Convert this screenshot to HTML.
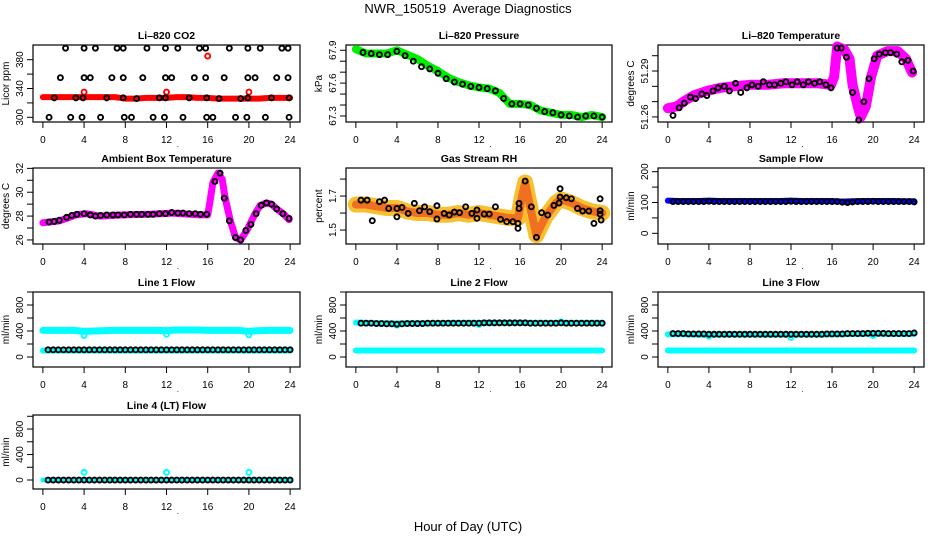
<!DOCTYPE html>
<html><head><meta charset="utf-8">
<style>
html,body{margin:0;padding:0;background:#fff;}
svg{display:block;font-family:"Liberation Sans",Arial,sans-serif;}
</style></head>
<body>
<svg id="chart" width="936" height="540" viewBox="0 0 936 540" xmlns="http://www.w3.org/2000/svg">
<rect x="0" y="0" width="936" height="540" fill="#fff"/>
<text x="468" y="13" font-size="13" text-anchor="middle">NWR_150519&#160; Average Diagnostics</text>
<text x="468" y="531" font-size="13" text-anchor="middle">Hour of Day (UTC)</text>
</svg>
<script>
const xTicks=[0,4,8,12,16,20,24];
const hours=[0,1,2,3,4,5,6,7,8,9,10,11,12,13,14,15,16,17,18,19,20,21,22,23,24];
const halfHours=[0.5,1,1.5,2,2.5,3,3.5,4,4.5,5,5.5,6,6.5,7,7.5,8,8.5,9,9.5,10,10.5,11,11.5,12,12.5,13,13.5,14,14.5,15,15.5,16,16.5,17,17.5,18,18.5,19,19.5,20,20.5,21,21.5,22,22.5,23,23.5,24];

// CO2
const co2Red=[328,328,328,328,328,328,328,328,326,326,327,327,327,328,328,327,327,326,326,326,326,326,327,327,327];
const co2OutX=[4,12,16,20];
const co2OutY=[335,335,385,335];
const co2BlkX=[2.2,4.0,5.1,7.2,7.8,10.1,11.9,13.1,15.2,15.8,18.1,19.9,21.1,23.2,23.8,
1.7,4.0,4.6,6.7,7.8,9.7,11.9,12.5,14.7,15.8,17.6,19.9,20.6,22.7,23.8,
1.1,3.2,3.9,6.2,7.8,9.1,11.3,11.9,14.2,15.9,17.1,19.2,19.9,22.2,23.9,
0.6,2.7,3.8,5.6,7.9,8.6,10.7,11.8,13.6,15.9,16.5,18.7,19.8,21.6,23.9];
const co2BlkY=[396,396,396,396,396,396,396,396,396,396,396,396,396,396,396,
355,355,355,355,355,355,355,355,355,355,355,355,355,355,355,
327,327,327,327,327,326,327,327,327,327,326,326,327,327,327,
300,300,300,300,300,300,300,300,300,300,300,300,300,300,300];

// Pressure
const presGreen=[67.91,67.87,67.87,67.87,67.90,67.86,67.82,67.76,67.71,67.65,67.61,67.58,67.56,67.55,67.51,67.41,67.41,67.40,67.35,67.33,67.31,67.31,67.29,67.31,67.29];
const presBlkX=[0.7,1.5,2.3,3.1,4,4.8,5.6,6.4,7.2,8,8.8,9.6,10.4,11.2,12,12.8,13.6,14.4,15.2,16,16.8,17.6,18.4,19.2,20,20.8,21.6,22.4,23.2,24];
const presBlkY=[67.88,67.87,67.86,67.86,67.89,67.85,67.80,67.75,67.73,67.69,67.64,67.61,67.59,67.57,67.56,67.55,67.53,67.46,67.41,67.41,67.40,67.37,67.34,67.33,67.31,67.30,67.29,67.30,67.30,67.29];

// Li-820 temperature
const ltX=[0,0.9,1.5,2.5,3.8,5.1,6.4,8.0,9.7,11.3,12.9,14.6,15.9,16.2,16.5,17.2,17.7,18.0,18.5,18.8,19.3,19.8,20.4,21.4,22.4,23.2,23.8];
const ltY=[51.2657,51.267,51.270,51.274,51.277,51.279,51.280,51.281,51.281,51.282,51.282,51.282,51.281,51.286,51.306,51.304,51.298,51.281,51.267,51.260,51.267,51.286,51.300,51.303,51.303,51.298,51.289];
const ltBlkX=[0.5,1.1,1.6,2.2,2.7,3.3,3.8,4.4,4.9,5.5,6.0,6.6,7.1,7.7,8.2,8.8,9.3,9.9,10.4,11.0,11.5,12.1,12.6,13.2,13.7,14.3,14.8,15.4,15.9,16.5,16.9,17.4,18.0,18.6,19.1,19.6,20.1,20.6,21.2,21.7,22.3,22.8,23.4,23.9];
const ltBlkY=[51.261,51.266,51.269,51.273,51.272,51.275,51.274,51.277,51.279,51.280,51.277,51.282,51.276,51.279,51.281,51.280,51.283,51.281,51.281,51.282,51.283,51.281,51.283,51.281,51.283,51.282,51.283,51.281,51.279,51.305,51.305,51.299,51.276,51.258,51.270,51.285,51.298,51.301,51.302,51.302,51.301,51.296,51.297,51.290];

// Ambient box temperature
const ambX=[0,1.6,2.3,3.2,4.2,5.5,7.8,10.4,12.6,15.2,16.0,16.2,16.5,17.0,17.4,17.7,18.2,18.7,19.2,19.8,20.6,21.1,21.7,22.2,22.7,23.4,23.9];
const ambY=[27.44,27.6,27.8,28.1,28.2,28.0,28.1,28.15,28.25,28.1,28.1,29.1,30.8,31.6,31.1,29.5,27.6,26.2,26.0,26.8,28.2,28.9,29.1,29.0,28.6,28.15,27.7];
const ambBlkX=[0.6,1.1,1.6,2.3,2.8,3.3,4,4.6,5.1,5.6,6.2,6.8,7.3,7.9,8.5,9.1,9.6,10.2,10.7,11.3,11.9,12.5,13.1,13.6,14.2,14.8,15.3,15.9,16.7,17.2,17.6,18.1,18.7,19.2,19.7,20.2,20.7,21.2,21.7,22.2,22.7,23.3,23.9];
const ambBlkY=[27.5,27.55,27.65,27.9,28.05,28.15,28.2,28.1,28.0,28.05,28.1,28.1,28.1,28.1,28.15,28.15,28.15,28.15,28.15,28.2,28.2,28.3,28.25,28.25,28.2,28.2,28.15,28.15,30.9,31.6,29.5,27.6,26.2,26.0,26.8,27.3,28.2,28.9,29.1,29.0,28.6,28.2,27.8];

// Gas stream RH
const rhX=[0,1,2,3,4,5,6,7,8,9,10,11,12,13,14,15,15.8,16.2,16.5,16.9,17.3,17.6,18.0,18.5,19,19.5,20,21,22,23,24];
const rhMid=[1.65,1.65,1.64,1.63,1.63,1.61,1.60,1.60,1.59,1.59,1.60,1.59,1.60,1.59,1.58,1.57,1.57,1.70,1.78,1.66,1.55,1.47,1.52,1.58,1.62,1.66,1.68,1.66,1.63,1.61,1.60];
const rhBlkX=[0.5,1.1,1.6,2.3,2.8,3.2,4.0,4.0,4.5,5.1,5.7,6.2,6.7,7.2,7.9,7.9,8.6,9.1,9.6,10.1,10.7,11.3,11.8,11.8,12.5,13.0,13.6,14.1,14.7,15.3,15.8,15.8,15.9,15.9,16.5,17.1,17.6,18.1,18.7,19.3,19.8,19.9,19.9,20.5,21.0,21.6,22.1,22.7,23.2,23.8,23.8,23.8,23.9];
const rhBlkY=[1.676,1.676,1.555,1.667,1.676,1.627,1.627,1.578,1.633,1.598,1.657,1.614,1.637,1.608,1.643,1.565,1.598,1.588,1.606,1.602,1.637,1.598,1.618,1.569,1.594,1.594,1.637,1.563,1.549,1.549,1.539,1.510,1.657,1.627,1.788,1.637,1.457,1.602,1.588,1.645,1.659,1.694,1.743,1.690,1.684,1.627,1.612,1.612,1.539,1.684,1.614,1.594,1.559];

// Sample flow
const sampBlue=[106,105,105,105,106,105,105,105,105,105,105,105,106,105,105,105,105,103,104,105,105,105,105,104,104];
const sampBlk=[103,103,103,103,103,103,103,104,103,103,103,103,103,103,103,103,103,103,103,103,103,103,103,104,103,103,103,103,103,103,103,103,103,101,100,102,103,103,103,104,103,103,103,103,103,103,103,102];

// Line 1 flow
const l1CyanHi=[410,410,410,410,395,400,405,410,410,410,410,410,405,415,415,415,410,410,410,410,395,405,410,410,410];
const l1CyanLo=[100,100,100,100,100,100,100,100,100,100,100,100,100,100,100,100,100,100,100,100,100,100,100,100,100];
const l1OutX=[4,12,20];
const l1OutY=[330,350,340];
const l1Blk=[110,110,110,110,110,110,110,110,110,110,110,110,110,110,110,110,110,110,110,110,110,110,110,110,110,110,110,110,110,110,110,110,110,110,110,110,110,110,110,110,110,110,110,110,110,110,110,110];

// Line 2 flow
const l2CyanHi=[530,525,520,520,515,520,520,520,520,525,525,525,525,525,525,525,525,525,525,525,525,525,525,525,525];
const l2CyanLo=[100,100,100,100,100,100,100,100,100,100,100,100,100,100,100,100,100,100,100,100,100,100,100,100,100];
const l2OutX=[4,12,20];
const l2OutY=[490,500,540];
const l2Blk=[520,520,520,515,515,510,510,505,510,515,515,515,515,520,520,520,520,520,520,520,520,520,520,520,525,525,525,525,525,525,525,525,525,520,520,520,520,520,520,525,520,520,520,520,520,520,520,520];

// Line 3 flow
const l3CyanHi=[350,350,350,345,340,345,345,345,345,345,345,345,340,345,345,345,350,350,355,355,360,355,355,355,355];
const l3CyanLo=[100,100,100,100,100,100,100,100,100,100,100,100,100,100,100,100,100,100,100,100,100,100,100,100,100];
const l3OutX=[4,12,20];
const l3OutY=[320,300,330];
const l3Blk=[360,360,360,355,355,355,355,350,350,350,350,350,350,350,350,350,350,350,350,350,350,350,350,350,350,350,350,350,350,350,355,355,355,355,360,360,360,360,365,365,365,365,360,360,360,360,360,370];

// Line 4 flow
const l4Cyan=[0,0,0,0,0,0,0,0,0,0,0,0,0,0,0,0,0,0,0,0,0,0,0,0,0];
const l4OutX=[4,12,20];
const l4OutY=[120,120,120];
const l4Blk=[0,0,0,0,0,0,0,0,0,0,0,0,0,0,0,0,0,0,0,0,0,0,0,0,0,0,0,0,0,0,0,0,0,0,0,0,0,0,0,0,0,0,0,0,0,0,0,0];

const NS='http://www.w3.org/2000/svg';
const svg=document.getElementById('chart');
const colsL=[33,346,658], colsR=[300,612,924];
const rowsT=[45,168,292,415], rowsB=[122,244,367,489];
const XMIN=-0.96, XMAX=24.96;

function el(tag,parent){const e=document.createElementNS(NS,tag);parent.appendChild(e);return e;}

function makePanel(name,col,row,title,ytitle,ylim,yTicks,yLabels){
  const L=colsL[col],R=colsR[col],T=rowsT[row],B=rowsB[row];
  const g=el('g',svg);
  
  
  const sx=v=>L+(v-XMIN)/(XMAX-XMIN)*(R-L);
  const sy=v=>B-(v-ylim[0])/(ylim[1]-ylim[0])*(B-T);
  const box=el('rect',g);
  
  
  box.setAttribute('x',L);box.setAttribute('y',T);box.setAttribute('width',R-L);box.setAttribute('height',B-T);
  box.setAttribute('fill','none');box.setAttribute('stroke','#000');box.setAttribute('stroke-width','1.2');
  const t=el('text',g);
  
  
  t.setAttribute('x',(L+R)/2);t.setAttribute('y',T-6);t.setAttribute('font-size','10.5');t.setAttribute('font-weight','bold');t.setAttribute('text-anchor','middle');
  t.textContent=title;
  const xa=el('g',g);
  
  
  xTicks.forEach(v=>{
    const ln=el('line',xa);
    
    
    ln.setAttribute('x1',sx(v));ln.setAttribute('x2',sx(v));ln.setAttribute('y1',B);ln.setAttribute('y2',B+6);ln.setAttribute('stroke','#000');
    const tx=el('text',xa);
    
    
    tx.setAttribute('x',sx(v));tx.setAttribute('y',B+21);tx.setAttribute('font-size','10');tx.setAttribute('text-anchor','middle');
    tx.textContent=v;
  });
  const dot=el('text',xa);
  
  
  dot.setAttribute('x',sx(13));dot.setAttribute('y',B+25);dot.setAttribute('font-size','8');dot.textContent='.';
  const ya=el('g',g);
  
  
  yTicks.forEach(v=>{
    const ln=el('line',ya);
    
    
    ln.setAttribute('x1',L-6);ln.setAttribute('x2',L);ln.setAttribute('y1',sy(v));ln.setAttribute('y2',sy(v));ln.setAttribute('stroke','#000');
  });
  yLabels.forEach(v=>{
    const tx=el('text',ya);
    
    
    const cx=L-10, cy=sy(v);
    tx.setAttribute('x',cx);tx.setAttribute('y',cy);tx.setAttribute('font-size','10');tx.setAttribute('text-anchor','middle');
    tx.setAttribute('transform','rotate(-90 '+cx+' '+cy+')');
    tx.textContent=v;
  });
  const yt=el('text',ya);
  
  
  const yx=L-24, yy=(T+B)/2;
  yt.setAttribute('x',yx);yt.setAttribute('y',yy);yt.setAttribute('font-size','10');yt.setAttribute('text-anchor','middle');
  yt.setAttribute('transform','rotate(-90 '+yx+' '+yy+')');
  yt.textContent=ytitle;
  return {g,sx,sy};
}

function band(p,xs,ys,color,width,name){
  const pl=el('polyline',p.g);
  
  
  pl.setAttribute('points',xs.map((x,i)=>p.sx(x)+','+p.sy(ys[i])).join(' '));
  pl.setAttribute('fill','none');pl.setAttribute('stroke',color);pl.setAttribute('stroke-width',width);
  pl.setAttribute('stroke-linejoin','round');pl.setAttribute('stroke-linecap','round');
}
function points(p,xs,ys,color,name){
  const gg=el('g',p.g);
  
  
  xs.forEach((x,i)=>{
    const c=el('circle',gg);
    
    
    c.setAttribute('cx',p.sx(x));c.setAttribute('cy',p.sy(ys[i]));c.setAttribute('r','2.5');
    c.setAttribute('fill','none');c.setAttribute('stroke',color);c.setAttribute('stroke-width','1.9');
  });
}

const flowTicks=[0,200,400,600,800,1000], flowLabels=[0,400,800];

let p=makePanel('panel-co2',0,0,'Li\u2013820 CO2','Licor ppm',[293.5,400.4],[300,320,340,360,380],[300,340,380]);
band(p,hours,co2Red,'#ff0000',6,'co2-red-band');
points(p,co2OutX,co2OutY,'#ff0000','co2-red-outliers');
points(p,co2BlkX,co2BlkY,'#000','co2-black-points');

p=makePanel('panel-pressure',1,0,'Li\u2013820 Pressure','kPa',[67.245,67.948],[67.3,67.4,67.5,67.6,67.7,67.8,67.9],['67.3','67.6','67.9']);
band(p,hours,presGreen,'#00ee00',8,'pressure-green-band');
points(p,presBlkX,presBlkY,'#000','pressure-black-points');

p=makePanel('panel-li820-temp',2,0,'Li\u2013820 Temperature','degrees C',[51.2567,51.307],[51.26,51.27,51.28,51.29,51.30],['51.26','51.29']);
band(p,ltX,ltY,'#ff00ff',10,'li820-temp-magenta-band');
points(p,ltBlkX,ltBlkY,'#000','li820-temp-black-points');

p=makePanel('panel-ambient-temp',0,1,'Ambient Box Temperature','degrees C',[25.66,32.03],[26,27,28,29,30,31,32],[26,28,30,32]);
band(p,ambX,ambY,'#ff00ff',7,'ambient-magenta-band');
points(p,ambBlkX,ambBlkY,'#000','ambient-black-points');

p=makePanel('panel-gas-rh',1,1,'Gas Stream RH','percent',[1.418,1.865],[1.5,1.6,1.7,1.8],['1.5','1.7']);
band(p,rhX,rhMid,'#f8c030',16,'rh-orange-band');
band(p,rhX,rhMid,'#ee7020',8,'rh-red-core');
points(p,rhBlkX,rhBlkY,'#000','rh-black-points');

p=makePanel('panel-sample-flow',2,1,'Sample Flow','ml/min',[-34.7,212],[0,50,100,150,200],[0,100,200]);
band(p,hours,sampBlue,'#0000ff',6,'sample-blue-band');
points(p,halfHours,sampBlk,'#000','sample-black-points');

p=makePanel('panel-line1-flow',0,2,'Line 1 Flow','ml/min',[-154,1000],flowTicks,flowLabels);
band(p,hours,l1CyanHi,'#00ffff',7,'line1-cyan-high');
band(p,hours,l1CyanLo,'#00ffff',6,'line1-cyan-low');
points(p,l1OutX,l1OutY,'#00ffff','line1-cyan-outliers');
points(p,halfHours,l1Blk,'#000','line1-black-points');

p=makePanel('panel-line2-flow',1,2,'Line 2 Flow','ml/min',[-154,1000],flowTicks,flowLabels);
band(p,hours,l2CyanHi,'#00ffff',6,'line2-cyan-high');
band(p,hours,l2CyanLo,'#00ffff',6,'line2-cyan-low');
points(p,l2OutX,l2OutY,'#00ffff','line2-cyan-outliers');
points(p,halfHours,l2Blk,'#000','line2-black-points');

p=makePanel('panel-line3-flow',2,2,'Line 3 Flow','ml/min',[-154,1000],flowTicks,flowLabels);
band(p,hours,l3CyanHi,'#00ffff',6,'line3-cyan-high');
band(p,hours,l3CyanLo,'#00ffff',6,'line3-cyan-low');
points(p,l3OutX,l3OutY,'#00ffff','line3-cyan-outliers');
points(p,halfHours,l3Blk,'#000','line3-black-points');

p=makePanel('panel-line4-flow',0,3,'Line 4 (LT) Flow','ml/min',[-141,1020],flowTicks,flowLabels);
band(p,hours,l4Cyan,'#00ffff',5,'line4-cyan-band');
points(p,l4OutX,l4OutY,'#00ffff','line4-cyan-outliers');
points(p,halfHours,l4Blk,'#000','line4-black-points');
</script>
</body></html>
